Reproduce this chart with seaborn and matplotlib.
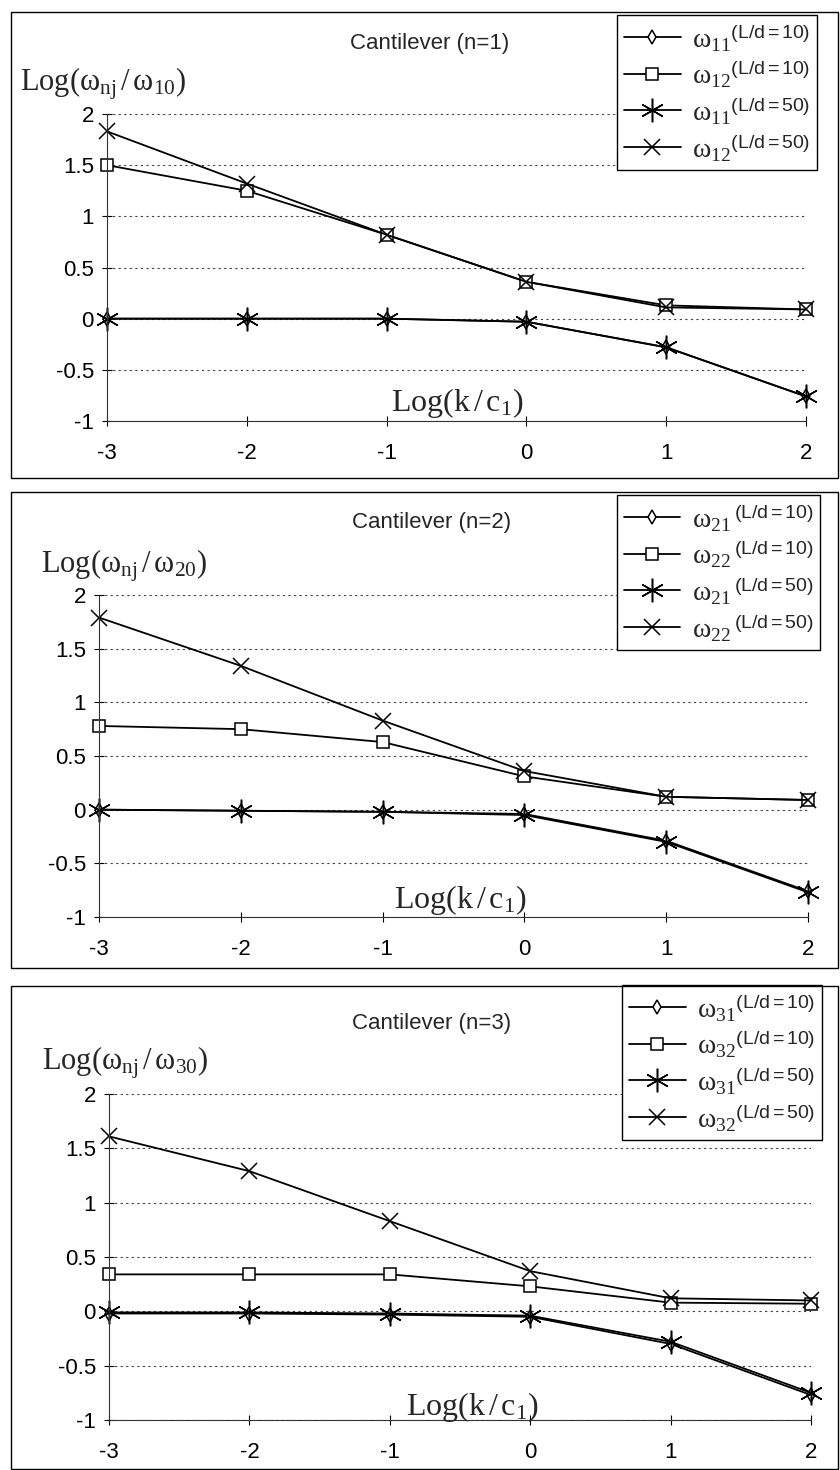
import matplotlib
matplotlib.use("Agg")
import pandas as pd
import seaborn as sns
from matplotlib import pyplot as plt
from matplotlib.patches import Rectangle

log_k = [-3, -2, -1, 0, 1, 2]
y_ticks = [-1, -0.5, 0, 0.5, 1, 1.5, 2]
y_ticklabels = ["-1", "-0.5", "0", "0.5", "1", "1.5", "2"]
x_ticklabels = ["-3", "-2", "-1", "0", "1", "2"]

# n = 1
w11_ld10 = [0.0, 0.0, 0.0, -0.03, -0.28, -0.76]
w12_ld10 = [1.50, 1.25, 0.82, 0.36, 0.13, 0.09]
w11_ld50 = [0.0, 0.0, 0.0, -0.03, -0.28, -0.76]
w12_ld50 = [1.83, 1.32, 0.82, 0.36, 0.11, 0.09]

# n = 2
w21_ld10 = [0.0, -0.01, -0.02, -0.04, -0.29, -0.76]
w22_ld10 = [0.78, 0.75, 0.63, 0.31, 0.12, 0.09]
w21_ld50 = [0.0, -0.01, -0.02, -0.05, -0.30, -0.77]
w22_ld50 = [1.79, 1.34, 0.83, 0.36, 0.12, 0.09]

# n = 3
w31_ld10 = [-0.02, -0.02, -0.03, -0.05, -0.30, -0.77]
w32_ld10 = [0.34, 0.34, 0.34, 0.23, 0.08, 0.07]
w31_ld50 = [-0.01, -0.01, -0.02, -0.04, -0.28, -0.75]
w32_ld50 = [1.61, 1.29, 0.83, 0.37, 0.12, 0.10]

titles = ["Cantilever (n=1)", "Cantilever (n=2)", "Cantilever (n=3)"]
ylabels = [r"$\mathrm{Log(ω_{nj}\,/\,ω_{10})}$",
           r"$\mathrm{Log(ω_{nj}\,/\,ω_{20})}$",
           r"$\mathrm{Log(ω_{nj}\,/\,ω_{30})}$"]
xlabel = r"$\mathrm{Log(k\,/\,c_1)}$"

panels = [
    [(w11_ld10, r"$\mathrm{ω}_{11}{}^{\mathsf{(L/d{=}10)}}$"),
     (w12_ld10, r"$\mathrm{ω}_{12}{}^{\mathsf{(L/d{=}10)}}$"),
     (w11_ld50, r"$\mathrm{ω}_{11}{}^{\mathsf{(L/d{=}50)}}$"),
     (w12_ld50, r"$\mathrm{ω}_{12}{}^{\mathsf{(L/d{=}50)}}$")],
    [(w21_ld10, r"$\mathrm{ω}_{21}{}\,^{\mathsf{(L/d{=}10)}}$"),
     (w22_ld10, r"$\mathrm{ω}_{22}{}\,^{\mathsf{(L/d{=}10)}}$"),
     (w21_ld50, r"$\mathrm{ω}_{21}{}\,^{\mathsf{(L/d{=}50)}}$"),
     (w22_ld50, r"$\mathrm{ω}_{22}{}\,^{\mathsf{(L/d{=}50)}}$")],
    [(w31_ld10, r"$\mathrm{ω}_{31}{}^{\mathsf{(L/d{=}10)}}$"),
     (w32_ld10, r"$\mathrm{ω}_{32}{}^{\mathsf{(L/d{=}10)}}$"),
     (w31_ld50, r"$\mathrm{ω}_{31}{}^{\mathsf{(L/d{=}50)}}$"),
     (w32_ld50, r"$\mathrm{ω}_{32}{}^{\mathsf{(L/d{=}50)}}$")],
]

marker_styles = [
    dict(marker="d", ms=7, mfc="white"),
    dict(marker="s", ms=9, mfc="white"),
    dict(marker=(6, 2, 0), ms=17),
    dict(marker="x", ms=11),
]

# layout in pixels (figure is 840 x 1470)
frames = [(11, 12, 838, 478), (11, 492, 838, 968), (11, 986, 838, 1469)]
axes_box = [(107, 114, 806, 421), (99, 595, 808, 917), (109, 1094, 811, 1420)]
title_pos = [(430, 43), (432, 522), (432, 1023)]
ylabel_pos = [(20, 84), (41, 566), (42, 1063)]
xlabel_pos = [(457, 403), (460, 900), (472, 1407)]
legend_pos = [(817, 15), (820, 495), (822, 985)]

sns.set_style("white")
plt.rcParams["font.family"] = ["Liberation Sans", "DejaVu Sans"]
plt.rcParams["mathtext.fontset"] = "custom"
plt.rcParams["mathtext.rm"] = "Liberation Serif"
plt.rcParams["mathtext.it"] = "Liberation Serif:italic"
plt.rcParams["mathtext.sf"] = "Liberation Sans"

W, H = 840, 1470
fig = plt.figure(figsize=(8.4, 14.7), dpi=100)


def fx(px):
    return px / W


def fy(py):
    return 1 - py / H


for i in range(3):
    x0, y0, x1, y1 = frames[i]
    fig.add_artist(Rectangle((fx(x0), fy(y1)), fx(x1 - x0), (y1 - y0) / H,
                             transform=fig.transFigure, fill=False,
                             ec="black", lw=1.0))
    l, t, r, b = axes_box[i]
    ax = fig.add_axes([fx(l), fy(b), fx(r - l), (b - t) / H])
    for (vals, lab), st in zip(panels[i], marker_styles):
        sns.lineplot(x=log_k, y=vals, ax=ax, color="black", lw=1.3,
                     mec="black", mew=1.1, clip_on=False, label=lab, **st)
    ax.set(xlim=(-3, 2), ylim=(-1, 2), xlabel="", ylabel="")
    ax.set_xticks(log_k)
    ax.set_xticklabels(x_ticklabels)
    ax.set_yticks(y_ticks)
    ax.set_yticklabels(y_ticklabels)
    ax.grid(axis="y", ls=(0, (2, 3)), color="0.25", lw=0.8)
    ax.grid(axis="x", visible=False)
    ax.spines[["top", "right"]].set_visible(False)
    ax.spines[["left", "bottom"]].set_color("0.2")
    ax.tick_params(direction="inout", length=7, width=0.8, labelsize=16,
                   colors="black", left=True, bottom=True)
    ax.tick_params(axis="x", pad=12)
    ax.tick_params(axis="y", pad=6)
    ax.patch.set_alpha(0)

    leg = ax.legend(loc="upper right", bbox_to_anchor=(fx(legend_pos[i][0]), fy(legend_pos[i][1])),
                    bbox_transform=fig.transFigure, fontsize=20, frameon=True,
                    fancybox=False, edgecolor="black", framealpha=1,
                    handlelength=2.05, handletextpad=0.4, borderpad=0.25,
                    labelspacing=0.2, borderaxespad=0)
    leg.get_frame().set_linewidth(1.0)

    fig.text(fx(title_pos[i][0]), fy(title_pos[i][1]), titles[i],
             ha="center", va="center", fontsize=16)
    fig.text(fx(ylabel_pos[i][0]), fy(ylabel_pos[i][1]), ylabels[i],
             ha="left", va="center", fontsize=22)
    fig.text(fx(xlabel_pos[i][0]), fy(xlabel_pos[i][1]), xlabel,
             ha="center", va="center", fontsize=23)

fig.savefig("out.png", dpi=100, facecolor="white")
